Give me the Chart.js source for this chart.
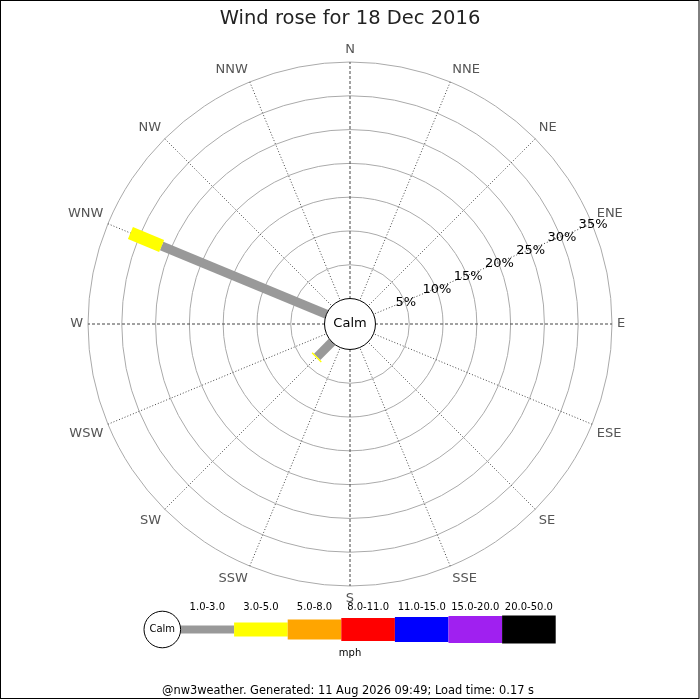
<!DOCTYPE html>
<html><head><meta charset="utf-8">
<script src="https://cdn.jsdelivr.net/npm/chart.js@4"></script>
<style>html,body{margin:0;padding:0;background:#fff}#wrap{position:absolute;left:0;top:0;width:700px;height:700px}</style>
</head><body><div id="wrap"><canvas id="c"></canvas></div>
<script>
const directions = ['N','NNE','NE','ENE','E','ESE','SE','SSE','S','SSW','SW','WSW','W','WNW','NW','NNW'];
const speedBands = ['1.0-3.0','3.0-5.0','5.0-8.0','8.0-11.0','11.0-15.0','15.0-20.0','20.0-50.0'];
const bandColours = ['#999999','#ffff00','#ffa500','#ff0000','#0000ff','#a020f0','#000000'];
// percentage of time per direction for each speed band (mph)
const pct_1_3   = [0,0,0,0,0,0,0,0,0,0,3.1,0,0,26.4,0,0];
const pct_3_5   = [0,0,0,0,0,0,0,0,0,0,0.2,0,0,5.0,0,0];
const pct_5_8   = [0,0,0,0,0,0,0,0,0,0,0,0,0,0,0,0];
const pct_8_11  = [0,0,0,0,0,0,0,0,0,0,0,0,0,0,0,0];
const pct_11_15 = [0,0,0,0,0,0,0,0,0,0,0,0,0,0,0,0];
const pct_15_20 = [0,0,0,0,0,0,0,0,0,0,0,0,0,0,0,0];
const pct_20_50 = [0,0,0,0,0,0,0,0,0,0,0,0,0,0,0,0];
const bandValues = [pct_1_3,pct_3_5,pct_5_8,pct_8_11,pct_11_15,pct_15_20,pct_20_50];
const tickValues = [5,10,15,20,25,30,35];
const tickLabels = ['5%','10%','15%','20%','25%','30%','35%'];
const titleText = 'Wind rose for 18 Dec 2016';
const footerText = '@nw3weather. Generated: 11 Aug 2026 09:49; Load time: 0.17 s';
const unitLabel = 'mph';
const calmLabel = 'Calm';

const barWidths = [9,13,18,21,23,25,26];
const legendHeights = [8,14,20,23,25,27,28];
const FONT = '"DejaVu Sans", sans-serif';
Chart.defaults.font.family = FONT;

const rosePlugin = {
  id: 'rosePlugin',
  afterDatasetsDraw(chart) {
    const s = chart.scales.r, ctx = chart.ctx;
    ctx.save();
    for (let i = 0; i < directions.length; i++) {
      let cum = 0;
      chart.data.datasets.forEach((ds, b) => {
        const v = ds.data[i];
        if (!v) return;
        const p0 = s.getPointPositionForValue(i, cum);
        const p1 = s.getPointPositionForValue(i, cum + v);
        ctx.strokeStyle = ds.backgroundColor;
        ctx.lineWidth = barWidths[b];
        ctx.lineCap = 'butt';
        ctx.beginPath(); ctx.moveTo(p0.x, p0.y); ctx.lineTo(p1.x, p1.y); ctx.stroke();
        cum += v;
      });
    }
    const r0 = s.getDistanceFromCenterForValue(0);
    ctx.setLineDash([]);
    ctx.beginPath(); ctx.arc(s.xCenter, s.yCenter, r0, 0, Math.PI * 2);
    ctx.fillStyle = '#fff'; ctx.fill();
    ctx.strokeStyle = '#000'; ctx.lineWidth = 1; ctx.stroke();
    ctx.fillStyle = '#000'; ctx.font = '13px ' + FONT;
    ctx.textAlign = 'center'; ctx.textBaseline = 'middle';
    ctx.fillText(calmLabel, s.xCenter, s.yCenter);
    tickValues.forEach((v, k) => {
      const p = s.getPointPositionForValue(3, v);
      ctx.fillText(tickLabels[k], p.x + 1, p.y + 1);
    });
    ctx.restore();
  },
  afterDraw(chart) {
    const ctx = chart.ctx;
    ctx.save();
    ctx.textAlign = 'center'; ctx.textBaseline = 'middle';
    const x0 = 180.5, w = 53.6, cy = 629.5;
    speedBands.forEach((lab, b) => {
      const x = x0 + b * w, h = legendHeights[b];
      ctx.fillStyle = bandColours[b];
      ctx.fillRect(x, cy - h / 2, w, h);
      ctx.fillStyle = '#000'; ctx.font = '10px ' + FONT;
      ctx.fillText(lab, x + w / 2, 607);
    });
    ctx.beginPath(); ctx.arc(162.3, cy, 18.3, 0, Math.PI * 2);
    ctx.fillStyle = '#fff'; ctx.fill();
    ctx.strokeStyle = '#000'; ctx.lineWidth = 1; ctx.stroke();
    ctx.fillStyle = '#000'; ctx.font = '10px ' + FONT;
    ctx.fillText(calmLabel, 162.3, cy);
    ctx.fillText(unitLabel, 350, 653);
    ctx.font = '11.4px ' + FONT;
    ctx.fillText(footerText, 348, 691);
    ctx.strokeStyle = '#000'; ctx.lineWidth = 1;
    ctx.strokeRect(0.5, 0.5, 698.5, 698);
    ctx.restore();
  }
};

new Chart(document.getElementById('c'), {
  type: 'radar',
  data: {
    labels: directions,
    datasets: speedBands.map((lab, b) => ({
      label: lab, data: bandValues[b],
      backgroundColor: bandColours[b], borderColor: bandColours[b],
      showLine: false, pointRadius: 0, pointHoverRadius: 0, borderWidth: 0, fill: false
    }))
  },
  options: {
    responsive: true, maintainAspectRatio: false, animation: false, events: [],
    layout: { padding: { top: 0, bottom: 93, left: 0, right: 0 } },
    plugins: {
      legend: { display: false },
      tooltip: { enabled: false },
      title: { display: true, text: titleText, color: '#222',
        font: { family: FONT, size: 19.5, weight: 'normal' }, padding: { top: 7, bottom: 11 } }
    },
    scales: {
      r: {
        min: -3.77, max: 35,
        afterBuildTicks: (sc) => { sc.ticks = tickValues.map(v => ({ value: v })); },
        ticks: { display: false },
        grid: { circular: true, color: '#aaaaaa', lineWidth: 1 },
        angleLines: { color: '#444', lineWidth: 1,
          borderDash: (c) => (c.index % 4 === 0 ? [3, 2] : [1, 2]) },
        pointLabels: { color: '#555', font: { family: FONT, size: 13 }, padding: 5 }
      }
    }
  },
  plugins: [rosePlugin]
});
</script></body></html>
